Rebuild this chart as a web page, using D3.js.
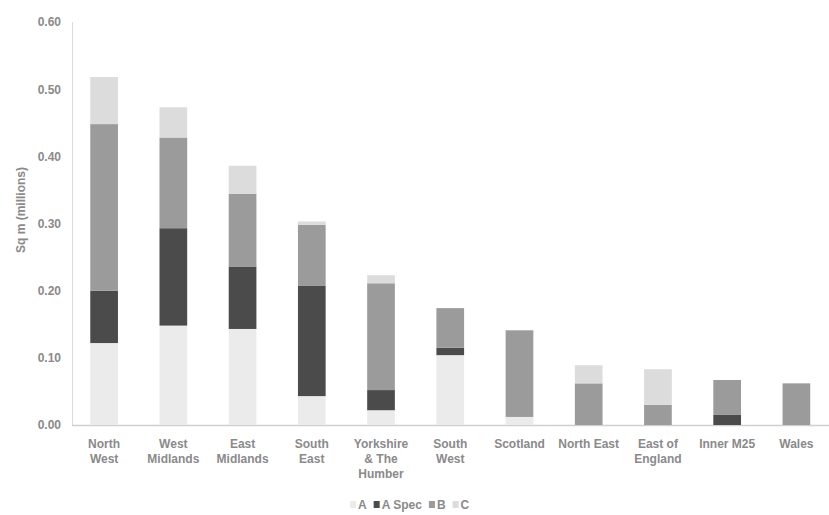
<!DOCTYPE html>
<html>
<head>
<meta charset="utf-8">
<script src="https://cdn.jsdelivr.net/npm/d3@7"></script>
<style>
  html, body { margin: 0; padding: 0; background: #fff; }
  svg { display: block; }
  text { font-family: "Liberation Sans", Arial, sans-serif; font-weight: bold; fill: #8a8a8a; }
</style>
</head>
<body>
<svg id="chart" width="829" height="515"></svg>
<script>
// Regions (x categories); "\n" marks a line break in the label
const regions = ["North\nWest", "West\nMidlands", "East\nMidlands", "South\nEast",
  "Yorkshire\n& The\nHumber", "South\nWest", "Scotland", "North East",
  "East of\nEngland", "Inner M25", "Wales"];

// Floorspace by grade, sq m (millions)
const gradeA     = [0.122, 0.148, 0.143, 0.043, 0.022, 0.104, 0.012, 0.000, 0.000, 0.000, 0.000];
const gradeASpec = [0.078, 0.145, 0.093, 0.164, 0.030, 0.011, 0.000, 0.000, 0.000, 0.015, 0.000];
const gradeB     = [0.248, 0.135, 0.108, 0.091, 0.159, 0.059, 0.129, 0.062, 0.030, 0.052, 0.062];
const gradeC     = [0.070, 0.045, 0.042, 0.005, 0.012, 0.000, 0.000, 0.027, 0.053, 0.000, 0.000];

const seriesNames = ["A", "A Spec", "B", "C"];
const yTicks = [0, 0.1, 0.2, 0.3, 0.4, 0.5, 0.6];

const colors = { "A": "#ebebeb", "A Spec": "#4b4b4b", "B": "#9b9b9b", "C": "#dcdcdc" };

const rows = regions.map((r, i) => ({
  region: r, "A": gradeA[i], "A Spec": gradeASpec[i], "B": gradeB[i], "C": gradeC[i]
}));

const svg = d3.select("#chart");

const x = d3.scaleBand().domain(regions).range([69.5, 831]).paddingInner(0.6).paddingOuter(0.3);
const y = d3.scaleLinear().domain([0, 0.6]).range([425, 22]);

const layers = d3.stack().keys(seriesNames)(rows);

// Axis lines
svg.append("line").attr("x1", 72.5).attr("x2", 72.5).attr("y1", y(0.6)).attr("y2", y(0))
  .attr("stroke", "#d9d9d9").attr("stroke-width", 1);
svg.append("line").attr("x1", 72).attr("x2", 830).attr("y1", y(0) + 0.5).attr("y2", y(0) + 0.5)
  .attr("stroke", "#d0d0d0").attr("stroke-width", 1.5);

// Y-axis tick labels
const yAxis = d3.axisLeft(y).tickValues(yTicks).tickFormat(d3.format(".2f")).tickSize(0).tickPadding(0);
const gy = svg.append("g").attr("transform", "translate(61,0)").call(yAxis);
gy.select(".domain").remove();
gy.selectAll("text").attr("font-size", 12).attr("fill", "#8a8a8a")
  .attr("font-family", "Liberation Sans, Arial, sans-serif").attr("font-weight", "bold");

// Y-axis title
svg.append("text")
  .attr("transform", "translate(25,210) rotate(-90)")
  .attr("text-anchor", "middle")
  .attr("font-size", 12)
  .text("Sq m (millions)");

// Stacked bars
svg.append("g").selectAll("g").data(layers).join("g")
  .attr("fill", d => colors[d.key])
  .selectAll("rect").data(d => d).join("rect")
  .attr("x", d => x(d.data.region))
  .attr("width", x.bandwidth())
  .attr("y", d => y(d[1]))
  .attr("height", d => Math.max(0, y(d[0]) - y(d[1])));

// X-axis category labels
const xl = svg.append("g");
regions.forEach(r => {
  const cx = x(r) + x.bandwidth() / 2;
  const t = xl.append("text")
    .attr("x", cx)
    .attr("y", 448)
    .attr("text-anchor", "middle")
    .attr("font-size", 12);
  r.split("\n").forEach((ln, i) => {
    t.append("tspan").attr("x", cx).attr("dy", i === 0 ? 0 : 15).text(ln);
  });
});

// Legend
const legend = svg.append("g").attr("transform", "translate(0,509)");
let lx = 350;
seriesNames.forEach(name => {
  legend.append("rect").attr("x", lx).attr("y", -8).attr("width", 6).attr("height", 7)
    .attr("fill", colors[name]);
  const t = legend.append("text").attr("x", lx + 8).attr("y", 0).attr("font-size", 12).text(name);
  lx += 8 + t.node().getComputedTextLength() + 7;
});
</script>
</body>
</html>
